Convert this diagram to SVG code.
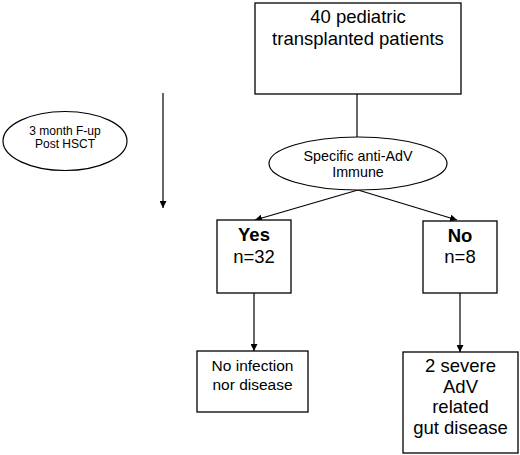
<svg xmlns="http://www.w3.org/2000/svg" width="520" height="455" viewBox="0 0 520 455">
<defs>
<marker id="ah" viewBox="0 0 8 8" refX="8" refY="4" markerWidth="7" markerHeight="7" markerUnits="userSpaceOnUse" orient="auto">
<path d="M0,0 L8,4 L0,8 z" fill="#000"/>
</marker>
</defs>
<style>
.box{fill:#fff;stroke:#000;stroke-width:1.3}
.ell{fill:#fff;stroke:#000;stroke-width:1.2}
.t{font-family:"Liberation Sans",Arial,sans-serif;text-anchor:middle;fill:#000}
.c{fill:none;stroke:#000;stroke-width:1.2;marker-end:url(#ah)}
.l{fill:none;stroke:#000;stroke-width:1.2}
</style>
<rect width="520" height="455" fill="#fff"/>
<g id="connectors">
<line class="l" x1="357" y1="94" x2="357" y2="137"/>
<line class="c" x1="163" y1="93" x2="163" y2="208"/>
<line class="c" x1="358" y1="190" x2="255" y2="220"/>
<line class="c" x1="358" y1="190" x2="457" y2="220"/>
<line class="c" x1="254" y1="293" x2="254" y2="351"/>
<line class="c" x1="460" y1="293" x2="460" y2="352"/>
</g>
<g id="patients">
<rect class="box" x="255" y="3" width="206" height="91"/>
<text class="t" x="358" y="23" font-size="18.5">40 pediatric</text>
<text class="t" x="358" y="45" font-size="18.5">transplanted patients</text>
</g>
<g id="followup">
<ellipse class="ell" cx="65" cy="141" rx="62" ry="29.5"/>
<text class="t" x="65" y="135" font-size="12">3 month F-up</text>
<text class="t" x="65" y="147.5" font-size="12">Post HSCT</text>
</g>
<g id="immune">
<ellipse class="ell" cx="358" cy="163.5" rx="89" ry="26.5"/>
<text class="t" x="358" y="161" font-size="14.3" fill="#222">Specific anti-AdV</text>
<text class="t" x="358" y="177" font-size="14.3" fill="#222">Immune</text>
</g>
<g id="yes">
<rect class="box" x="217" y="220" width="74" height="73"/>
<text class="t" x="254" y="241" font-size="18.5" font-weight="bold">Yes</text>
<text class="t" x="254" y="263" font-size="18.5">n=32</text>
</g>
<g id="no">
<rect class="box" x="423" y="221" width="74" height="72"/>
<text class="t" x="460" y="242" font-size="18.5" font-weight="bold">No</text>
<text class="t" x="460" y="263" font-size="18.5">n=8</text>
</g>
<g id="noinfection">
<rect class="box" x="197" y="351" width="111" height="61"/>
<text class="t" x="252.5" y="371" font-size="15.5">No infection</text>
<text class="t" x="252.5" y="390" font-size="15.5">nor disease</text>
</g>
<g id="severe">
<rect class="box" x="403" y="352" width="115" height="101"/>
<text class="t" x="460.5" y="372" font-size="18.5">2 severe</text>
<text class="t" x="460.5" y="393" font-size="18.5">AdV</text>
<text class="t" x="460.5" y="413" font-size="18.5">related</text>
<text class="t" x="460.5" y="434" font-size="18.5">gut disease</text>
</g>
</svg>
